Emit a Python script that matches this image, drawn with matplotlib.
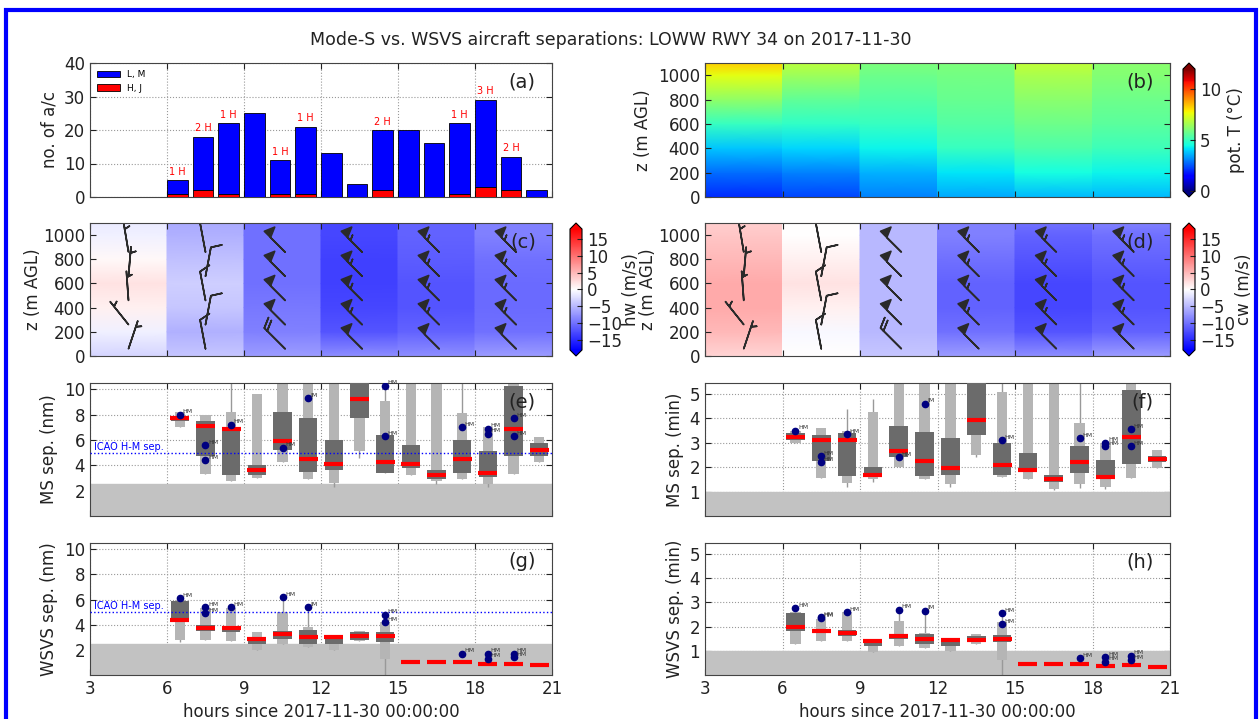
import numpy as np
import matplotlib.pyplot as plt
from matplotlib.patches import Rectangle

# ---- data ----
hours = [6, 7, 8, 9, 10, 11, 12, 13, 14, 15, 16, 17, 18, 19, 20]

# (a) number of aircraft per hour
n_total = [5, 18, 22, 25, 11, 21, 13, 4, 20, 20, 16, 22, 29, 12, 2]
n_heavy = [1, 2, 1, 0, 1, 1, 0, 0, 2, 0, 0, 1, 3, 2, 0]

# (b)-(d) profiles, one list per 3 h column
col_edges = [3, 6, 9, 12, 15, 18, 21]
prof_z = [0, 200, 400, 600, 800, 1000, 1100]
pot_t = [[2.0, 2.8, 3.8, 5.0, 6.3, 7.5, 8.3],
         [2.3, 3.0, 4.0, 4.9, 5.6, 6.5, 6.9],
         [3.0, 3.6, 4.4, 5.0, 5.4, 5.8, 6.0],
         [3.5, 4.2, 5.0, 5.4, 5.7, 5.9, 6.0],
         [3.7, 4.5, 5.3, 5.8, 6.2, 6.7, 7.0],
         [3.7, 4.4, 5.1, 5.5, 5.8, 6.1, 6.2]]
hw = [[-3, -1, 1, 2, 0.5, -1, -1.5],
      [-4, -5.5, -4, -3.5, -4.5, -5.5, -6],
      [-7, -9, -9.5, -10, -10, -10, -10],
      [-8, -12, -13, -13.5, -13.5, -13, -13],
      [-8, -11, -12, -12, -11.5, -11, -11],
      [-7, -10, -10.5, -10.5, -10, -9, -9]]
cw = [[3, 5, 6, 6, 5, 4, 3.5],
      [0, -0.5, 1, 2, 1, 0, 0],
      [-4, -5, -5, -5, -5, -5, -5],
      [-7, -10, -11, -11, -10, -9, -9],
      [-8, -12, -13, -13, -12, -11, -10],
      [-7, -11, -12, -12, -11, -10, -9]]

# wind barbs (same in c and d)
barb_x = [4.5, 7.5, 10.6, 13.6, 16.6, 19.6]
barb_z = [60, 260, 460, 660, 860]
wind_u = [[-2, 4, 0.5, -0.5, 1],
          [1.5, -1.5, 1.5, -1.5, 1.5],
          [14, 16, 18, 18, 18],
          [18, 20, 22, 22, 22],
          [18, 20, 22, 22, 22],
          [18, 20, 22, 22, 22]]
wind_v = [[-6, -5, -7, -6, -6],
          [-8, -8, -8, -8, -8],
          [-14, -16, -18, -18, -18],
          [-18, -20, -22, -22, -22],
          [-18, -20, -22, -22, -22],
          [-18, -20, -22, -22, -22]]

# (e) Mode-S separation in nm
e_lo = [7.0, 3.3, 2.8, 3.0, 4.3, 2.9, 2.6, 5.1, 3.4, 3.2, 2.8, 2.9, 2.5, 3.3, 4.3]
e_hi = [8.2, 8.0, 8.2, 9.6, 12, 12, 12, 12, 9.1, 12, 12, 8.1, 7.0, 12, 6.2]
e_q1 = [7.5, 4.7, 3.2, 3.2, 5.2, 3.5, 3.6, 7.7, 3.4, 3.8, 2.9, 3.4, 3.1, 4.7, 4.7]
e_q3 = [7.9, 7.5, 7.0, 4.0, 8.2, 7.7, 6.0, 12, 6.4, 5.6, 3.6, 6.0, 5.1, 10.3, 5.8]
e_med = [7.7, 7.1, 6.9, 3.6, 5.9, 4.5, 4.1, 9.2, 4.3, 4.1, 3.2, 4.5, 3.4, 6.9, 5.2]
e_wlo = [7.0, 3.3, 2.8, 3.0, 4.3, 2.9, 2.3, 4.6, 3.4, 3.2, 2.5, 2.9, 2.3, 3.3, 4.3]
e_whi = [8.2, 8.0, 12, 9.6, 12, 12, 12, 12, 12, 12, 12, 12, 7.0, 12, 6.2]
e_pts = {6: [8.0], 7: [5.6, 4.4], 8: [7.2], 10: [5.4], 11: [9.3],
         14: [10.3, 6.3], 17: [7.0], 18: [6.9, 6.5], 19: [7.7, 6.3]}

# (f) Mode-S separation in min
f_lo = [3.0, 1.55, 1.35, 1.5, 2.0, 1.5, 1.3, 2.5, 1.6, 1.5, 1.1, 1.3, 1.2, 1.55, 1.95]
f_hi = [3.5, 3.6, 3.5, 4.25, 6, 6, 6, 6, 5.1, 6, 5.4, 3.8, 3.0, 6, 2.7]
f_q1 = [3.1, 2.25, 1.65, 1.6, 2.4, 1.65, 1.7, 3.3, 1.7, 1.8, 1.4, 1.75, 1.55, 2.15, 2.2]
f_q3 = [3.4, 3.3, 3.4, 2.0, 3.7, 3.45, 3.2, 6, 3.0, 2.6, 1.7, 2.85, 2.3, 5.15, 2.45]
f_med = [3.25, 3.1, 3.1, 1.7, 2.65, 2.25, 1.95, 3.95, 2.1, 1.9, 1.5, 2.2, 1.6, 3.25, 2.35]
f_wlo = [3.0, 1.55, 1.2, 1.4, 2.0, 1.5, 1.2, 2.4, 1.6, 1.5, 1.05, 1.15, 1.1, 1.55, 1.95]
f_whi = [3.5, 3.6, 4.4, 4.8, 6, 6, 6, 6, 6, 6, 5.4, 6, 3.0, 6, 2.7]
f_pts = {6: [3.5], 7: [2.45, 2.2], 8: [3.35], 10: [2.4], 11: [4.6],
         14: [3.1], 17: [3.2], 18: [3.0, 2.85], 19: [3.55, 2.85]}

# (g) WSVS separation in nm
g_lo = [2.8, 2.8, 2.7, 2.0, 2.5, 2.2, 2.0, 2.7, 1.3, 1.0, 1.0, 1.0, 0.85, 0.85, 0.8]
g_hi = [6.0, 5.3, 5.3, 3.4, 5.0, 3.8, 3.2, 3.5, 4.2, 1.0, 1.0, 1.0, 0.85, 0.85, 0.8]
g_q1 = [4.2, 3.5, 3.4, 2.5, 2.9, 2.5, 2.5, 2.8, 2.6, 1.0, 1.0, 1.0, 0.8, 0.8, 0.8]
g_q3 = [5.9, 4.0, 3.9, 3.0, 3.5, 3.6, 3.1, 3.4, 3.4, 1.0, 1.0, 1.0, 0.95, 0.95, 0.8]
g_med = [4.4, 3.75, 3.7, 2.85, 3.25, 3.0, 3.0, 3.1, 3.1, 1.0, 1.0, 1.0, 0.85, 0.85, 0.8]
g_wlo = [2.6, 2.8, 2.7, 2.0, 2.5, 2.2, 2.0, 2.7, 0.0, 1.0, 1.0, 1.0, 0.85, 0.85, 0.8]
g_whi = [6.0, 5.3, 5.3, 3.4, 6.2, 5.4, 3.2, 3.5, 4.8, 1.0, 1.0, 1.0, 0.85, 0.85, 0.8]
g_pts = {6: [6.1], 7: [5.4, 4.9], 8: [5.4], 10: [6.2], 11: [5.4],
         14: [4.8, 4.2], 17: [1.7], 18: [1.7, 1.3], 19: [1.7, 1.4]}

# (h) WSVS separation in min
h_lo = [1.3, 1.4, 1.4, 0.95, 1.2, 1.1, 1.0, 1.3, 0.6, 0.45, 0.45, 0.45, 0.38, 0.4, 0.35]
h_hi = [2.6, 2.3, 2.6, 1.5, 2.25, 1.75, 1.5, 1.7, 2.2, 0.45, 0.45, 0.45, 0.38, 0.4, 0.35]
h_q1 = [1.8, 1.75, 1.6, 1.2, 1.5, 1.3, 1.2, 1.35, 1.35, 0.45, 0.45, 0.45, 0.34, 0.36, 0.35]
h_q3 = [2.55, 1.85, 1.85, 1.5, 1.7, 1.7, 1.5, 1.6, 1.65, 0.45, 0.45, 0.45, 0.44, 0.46, 0.35]
h_med = [2.0, 1.8, 1.75, 1.4, 1.6, 1.5, 1.45, 1.45, 1.5, 0.45, 0.45, 0.45, 0.38, 0.4, 0.35]
h_wlo = [1.3, 1.4, 1.4, 0.95, 1.2, 1.1, 1.0, 1.3, 0.0, 0.45, 0.45, 0.45, 0.38, 0.4, 0.35]
h_whi = [2.6, 2.3, 2.6, 1.5, 2.7, 2.65, 1.5, 1.7, 2.5, 0.45, 0.45, 0.45, 0.38, 0.4, 0.35]
h_pts = {6: [2.75], 7: [2.4, 2.35], 8: [2.6], 10: [2.7], 11: [2.65],
         14: [2.55, 2.1], 17: [0.7], 18: [0.75, 0.55], 19: [0.8, 0.6]}

W, H = 1260, 719
fig = plt.figure(figsize=(12.6, 7.19), dpi=100)


def box(l, t, r, b):
    return [l / W, 1 - b / H, (r - l) / W, (b - t) / H]


ax_a = fig.add_axes(box(90, 63, 552, 197))
ax_b = fig.add_axes(box(705, 63, 1170, 197))
ax_c = fig.add_axes(box(90, 223, 552, 356))
ax_d = fig.add_axes(box(705, 223, 1170, 356))
ax_e = fig.add_axes(box(90, 383, 552, 516))
ax_f = fig.add_axes(box(705, 383, 1170, 516))
ax_g = fig.add_axes(box(90, 543, 552, 675))
ax_h = fig.add_axes(box(705, 543, 1170, 675))
cax_b = fig.add_axes(box(1183, 63, 1195, 197))
cax_c = fig.add_axes(box(570, 223, 582, 356))
cax_d = fig.add_axes(box(1183, 223, 1195, 356))

tick_kw = dict(direction='in', labelsize=12, colors='#222222', top=True, right=True, length=4)


def style(ax, label, ylabel, grid=True, pad=4):
    ax.set_xlim(3, 21)
    ax.set_xticks([3, 6, 9, 12, 15, 18, 21])
    ax.tick_params(**tick_kw)
    for s in ax.spines.values():
        s.set_color('#444444')
    if grid:
        ax.grid(True, linestyle=':', color='#999999', lw=0.8)
        ax.set_axisbelow(True)
    ax.set_ylabel(ylabel, fontsize=12, color='#222222', labelpad=pad)
    ax.text(0.965, 0.93, label, transform=ax.transAxes, ha='right', va='top',
            fontsize=14, color='#222222', zorder=10)


# ---- (a) aircraft counts ----
n_light = np.subtract(n_total, n_heavy)
ax_a.bar(hours, n_heavy, width=0.8, align='edge', color='red', edgecolor='black',
         lw=0.6, label='H, J', zorder=3)
ax_a.bar(hours, n_light, bottom=n_heavy, width=0.8, align='edge', color='blue',
         edgecolor='black', lw=0.6, label='L, M', zorder=3)
for h, t, n in zip(hours, n_total, n_heavy):
    if n > 0:
        ax_a.text(h + 0.4, t + 1, f'{n} H', color='red', fontsize=7, ha='center', va='bottom')
ax_a.set_ylim(0, 40)
ax_a.set_yticks([0, 10, 20, 30, 40])
hnd, lab = ax_a.get_legend_handles_labels()
ax_a.legend(hnd[::-1], lab[::-1], loc='upper left', fontsize=6.5, frameon=False,
            handlelength=2.5, borderaxespad=0.4)
style(ax_a, '(a)', 'no. of a/c')
ax_a.set_xticklabels([])


# ---- (b)-(d) profile columns ----
def columns(ax, data, cmap, vmin, vmax):
    m = None
    for i, prof in enumerate(data):
        X, Z = np.meshgrid(col_edges[i:i + 2], prof_z)
        C = np.column_stack([prof, prof])
        m = ax.pcolormesh(X, Z, C, shading='gouraud', cmap=cmap, vmin=vmin, vmax=vmax)
    ax.set_ylim(0, 1100)
    ax.set_yticks([0, 200, 400, 600, 800, 1000])
    return m


m_b = columns(ax_b, pot_t, 'jet', 0, 12)
style(ax_b, '(b)', 'z (m AGL)', grid=False)
ax_b.set_xticklabels([])
cb = fig.colorbar(m_b, cax=cax_b, extend='both', ticks=[0, 5, 10])
cb.set_label('pot. T (°C)', fontsize=12, color='#222222')
cb.ax.tick_params(labelsize=12, colors='#222222', direction='in')

BX, BZ = np.meshgrid(barb_x, barb_z)
BU = np.array(wind_u).T
BV = np.array(wind_v).T
for ax, data, cax, lab, name in [(ax_c, hw, cax_c, 'hw (m/s)', '(c)'),
                                 (ax_d, cw, cax_d, 'cw (m/s)', '(d)')]:
    m = columns(ax, data, 'bwr', -18, 18)
    ax.barbs(BX, BZ, BU, BV, length=6.5, lw=1.2, color='#2a2a2a',
             barb_increments=dict(half=5, full=10, flag=25),
             sizes=dict(spacing=0.14, height=0.35, width=0.3))
    style(ax, name, 'z (m AGL)', grid=False, pad=1)
    ax.set_xticklabels([])
    cb = fig.colorbar(m, cax=cax, extend='both', ticks=[-15, -10, -5, 0, 5, 10, 15])
    cb.set_label(lab, fontsize=12, color='#222222', labelpad=0)
    cb.ax.tick_params(labelsize=12, colors='#222222', direction='in')


# ---- (e)-(h) separations ----
def sep(ax, lo, hi, q1, q3, med, wlo, whi, pts, ymax, band, yticks):
    x = np.array(hours) + 0.5
    ax.axhspan(0, band, color='#c2c2c2', zorder=1)
    ax.vlines(x, wlo, whi, color='#999999', lw=1, zorder=2)
    ax.bar(x, np.subtract(hi, lo), bottom=lo, width=0.4, color='#b5b5b5', zorder=2)
    ax.bar(x, np.subtract(q3, q1), bottom=q1, width=0.72, color='#6b6b6b', zorder=3)
    ax.hlines(med, x - 0.37, x + 0.37, color='red', lw=3, zorder=4)
    for h, vals in pts.items():
        for v in vals:
            ax.plot(h + 0.5, v, 'o', color='#000080', ms=4.5, zorder=5)
            ax.text(h + 0.6, v + ymax * 0.01, 'JM' if h == 11 else 'HM',
                    fontsize=4.5, color='#333333', zorder=5)
    ax.set_ylim(0, ymax)
    ax.set_yticks(yticks)


sep(ax_e, e_lo, e_hi, e_q1, e_q3, e_med, e_wlo, e_whi, e_pts, 10.5, 2.5, [2, 4, 6, 8, 10])
sep(ax_f, f_lo, f_hi, f_q1, f_q3, f_med, f_wlo, f_whi, f_pts, 5.45, 1.0, [1, 2, 3, 4, 5])
sep(ax_g, g_lo, g_hi, g_q1, g_q3, g_med, g_wlo, g_whi, g_pts, 10.5, 2.5, [2, 4, 6, 8, 10])
sep(ax_h, h_lo, h_hi, h_q1, h_q3, h_med, h_wlo, h_whi, h_pts, 5.45, 1.0, [1, 2, 3, 4, 5])
for ax in (ax_e, ax_g):
    ax.axhline(5, color='blue', ls=':', lw=1, zorder=4)
    ax.text(3.15, 5.25, 'ICAO H-M sep.', color='blue', fontsize=7, zorder=6)
style(ax_e, '(e)', 'MS sep. (nm)')
style(ax_f, '(f)', 'MS sep. (min)')
style(ax_g, '(g)', 'WSVS sep. (nm)')
style(ax_h, '(h)', 'WSVS sep. (min)')
ax_e.set_xticklabels([])
ax_f.set_xticklabels([])
for ax in (ax_g, ax_h):
    ax.set_xlabel('hours since 2017-11-30 00:00:00', fontsize=12, color='#222222')

fig.text(0.485, 1 - 40 / H, 'Mode-S vs. WSVS aircraft separations: LOWW RWY 34 on 2017-11-30',
         ha='center', va='center', fontsize=12.5, color='#222222')

# blue frame around the figure
fig.add_artist(Rectangle((6 / W, -0.05), 1250 / W, 1.05 - 10 / H, transform=fig.transFigure,
                         fill=False, edgecolor='blue', lw=3))

fig.savefig('out.png', dpi=100)
